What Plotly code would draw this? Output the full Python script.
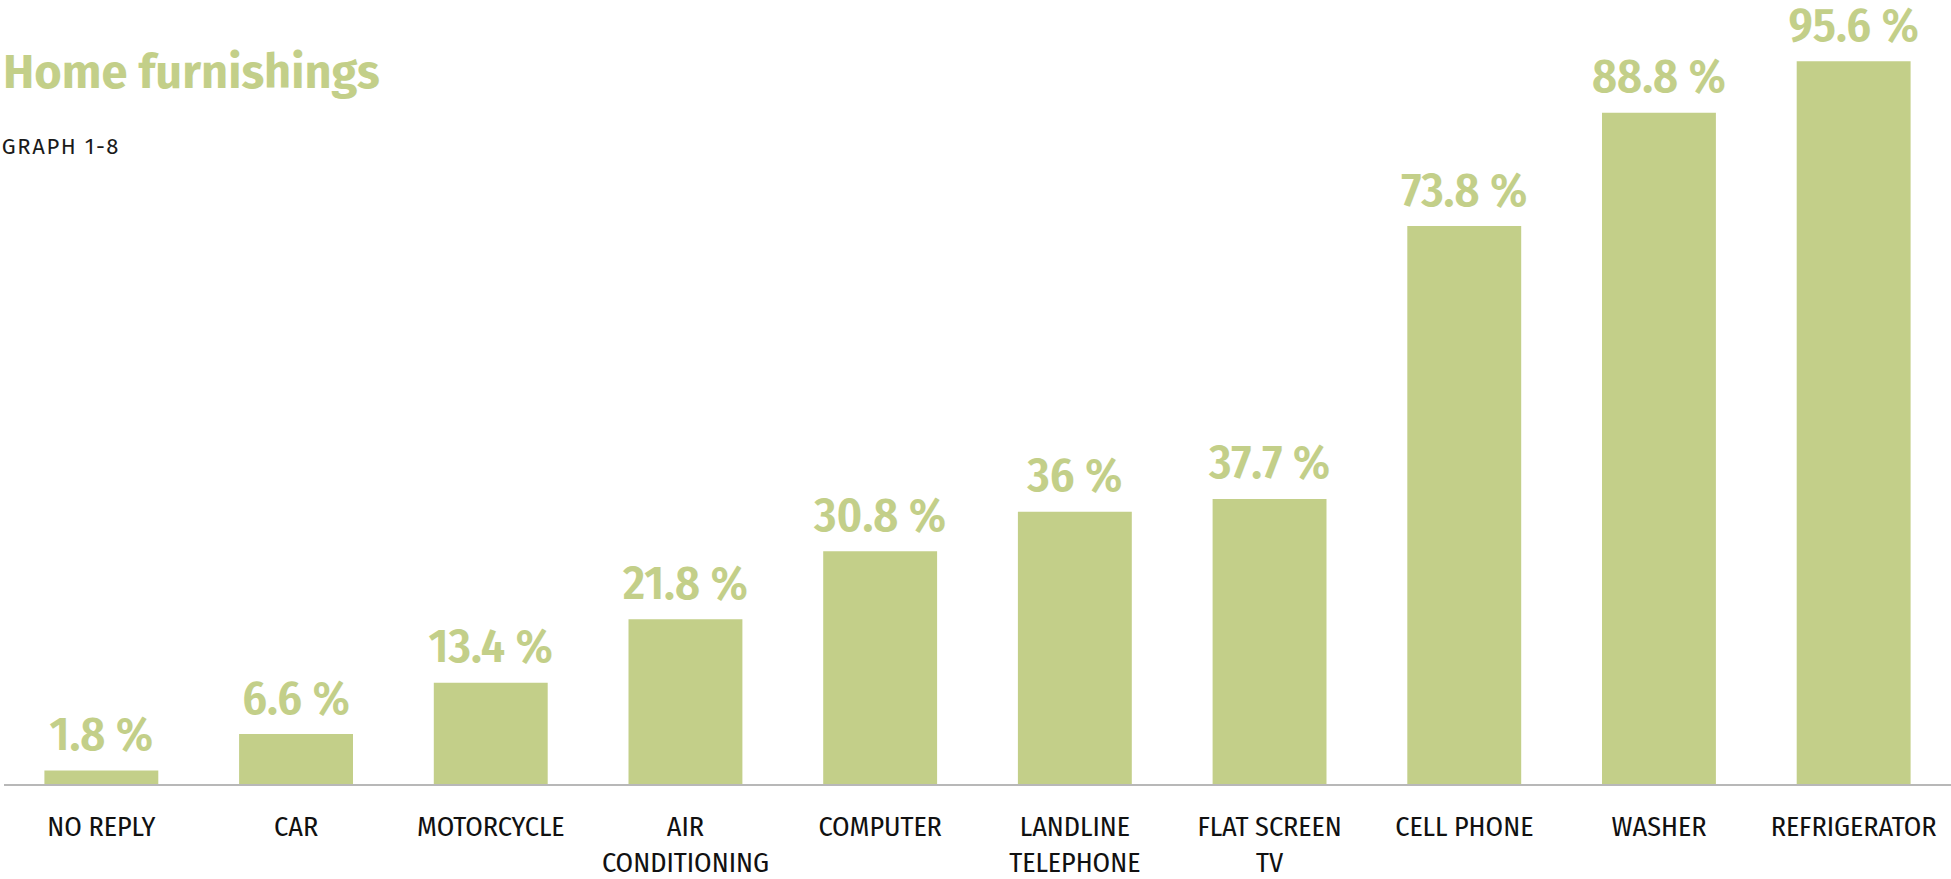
import plotly.graph_objects as go

# data
categories = ['NO REPLY', 'CAR', 'MOTORCYCLE', 'AIR<br>CONDITIONING', 'COMPUTER',
              'LANDLINE<br>TELEPHONE', 'FLAT SCREEN<br>TV', 'CELL PHONE', 'WASHER', 'REFRIGERATOR']
values = [1.8, 6.6, 13.4, 21.8, 30.8, 36, 37.7, 73.8, 88.8, 95.6]
value_labels = [f'{v:g} %' for v in values]

GREEN = '#c3cf89'
CONDENSED = '"Fira Sans Condensed", "Roboto Condensed", "Ubuntu Condensed", "Liberation Sans Narrow", Roboto, sans-serif'
HUMANIST = '"Fira Sans", Roboto, "Open Sans", sans-serif'

fig = go.Figure()

fig.add_trace(
    go.Bar(
        x=categories,
        y=values,
        marker_color=GREEN,
        marker_line_width=0,
        hoverinfo='x+y',
        showlegend=False,
    )
)

# value labels: an invisible marker on each bar top pushes the text up a bit
fig.add_trace(
    go.Scatter(
        x=categories,
        y=values,
        mode='markers+text',
        marker=dict(size=12, color='rgba(0,0,0,0)'),
        text=value_labels,
        textposition='top center',
        textfont=dict(family=CONDENSED, size=48, color=GREEN, weight=600),
        cliponaxis=False,
        hoverinfo='skip',
        showlegend=False,
    )
)

# title and subtitle
fig.add_annotation(
    text='<b>Home furnishings</b>',
    xref='paper', yref='paper', x=0, y=1,
    xanchor='left', yanchor='bottom',
    xshift=-3, yshift=-74,
    showarrow=False,
    font=dict(family=HUMANIST, size=47, color=GREEN),
)
fig.add_annotation(
    text='GRAPH 1-8',
    xref='paper', yref='paper', x=0, y=1,
    xanchor='left', yanchor='bottom',
    xshift=3, yshift=-134,  # letter spacing below widens it around its centre
    showarrow=False,
    font=dict(family=HUMANIST, size=22, color='#1a1a1a'),
)

fig.update_layout(
    width=1951,
    height=879,
    margin=dict(l=4, r=0, t=28, b=95),
    paper_bgcolor='white',
    plot_bgcolor='white',
    bargap=0.415,
)

fig.update_xaxes(
    range=[-0.5, 9.5],
    showline=True,
    linecolor='#b8b8b8',
    linewidth=2,
    showgrid=False,
    ticks='',
    automargin=False,
    ticklabelstandoff=16,
    tickfont=dict(family=CONDENSED, size=28, color='#111111'),
)
fig.update_yaxes(
    range=[0, 100],
    visible=False,
    showgrid=False,
    zeroline=False,
)

# drop the default page margin and give the subtitle its wide letter spacing
post = """
document.body.style.margin = '0';
document.querySelectorAll('.annotation-text').forEach(function (t) {
    if (t.textContent === 'GRAPH 1-8') { t.style.letterSpacing = '1.6px'; }
});
"""
fig.write_html('out.html', config={'displayModeBar': False}, post_script=post)
